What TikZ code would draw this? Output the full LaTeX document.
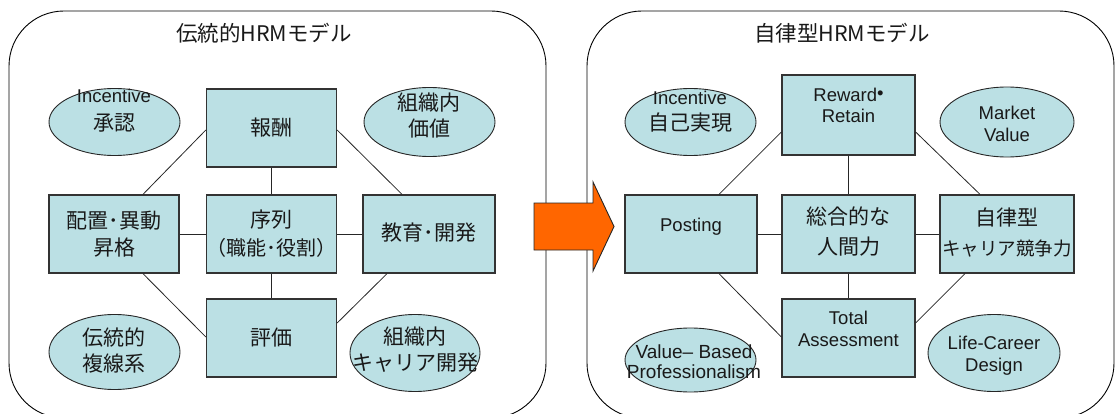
\documentclass[tikz,border=0pt]{standalone}
\usepackage{fontspec}
\setmainfont{Liberation Sans}
\newfontfamily\jp{Noto Sans CJK JP}
\usetikzlibrary{shapes.geometric,calc}
\definecolor{boxfill}{RGB}{187,224,228}
\definecolor{arroworange}{RGB}{255,102,0}
\begin{document}
\begin{tikzpicture}[x=1pt,y=-1pt,
  container/.style={draw=black, line width=0.9pt, rounded corners=55pt},
  box/.style={draw=black!80, line width=1.3pt, fill=boxfill, rectangle, inner sep=0pt},
  oval/.style={draw=black!85, line width=0.9pt, fill=boxfill, ellipse, inner sep=0pt},
  conn/.style={draw=black!85, line width=0.8pt},
  txt/.style={align=center, inner sep=0pt, text=black!90},
  jpt/.style={font=\jp\fontsize{21}{#1}\selectfont}, jpt/.default=27,
  lat/.style={font=\fontsize{18.5}{#1}\selectfont}, lat/.default=21,
  arrowshape/.style={draw=black!85, line width=0.9pt, fill=arroworange}]
\useasboundingbox (0,0) rectangle (1118,414);
% containers
\draw[container] (9,11) rectangle (546,418);
\draw[container] (587,11) rectangle (1114,418);
% titles
\node[txt, font=\jp\fontsize{21.5}{26}\selectfont] (title1) at (264,33) {伝統的HRMモデル};
\node[txt, font=\jp\fontsize{21.5}{26}\selectfont] (title2) at (842,33) {自律型HRMモデル};
% ---------- left model ----------
\node[oval, minimum width=131, minimum height=67] (inc1) at (114.5,122) {};
\node[oval, minimum width=131, minimum height=69] (val1) at (429.5,122) {};
\node[oval, minimum width=131, minimum height=75] (dento) at (114.5,352) {};
\node[oval, minimum width=130, minimum height=77] (car1) at (415,353) {};
\node[box, minimum width=130, minimum height=78] (hou) at (271.5,128) {};
\node[box, minimum width=130, minimum height=78] (haichi) at (114,234) {};
\node[box, minimum width=130, minimum height=78] (joretsu) at (271.5,234) {};
\node[box, minimum width=132, minimum height=78] (kyoiku) at (429,234) {};
\node[box, minimum width=130, minimum height=78] (hyoka) at (271.5,338) {};
\draw[conn] (hou.south) -- (joretsu.north);
\draw[conn] (joretsu.south) -- (hyoka.north);
\draw[conn] (haichi.east) -- (joretsu.west);
\draw[conn] (joretsu.east) -- (kyoiku.west);
\draw[conn] ($(hou.west)+(0,2)$) -- ($(haichi.north)+(29,0)$);
\draw[conn] ($(hou.east)+(0,2)$) -- ($(kyoiku.north)+(-27,0)$);
\draw[conn] ($(haichi.south)+(29,0)$) -- ($(hyoka.west)+(0,-1)$);
\draw[conn] ($(kyoiku.south)+(-42,0)$) -- ($(hyoka.east)+(0,-15)$);
\node[txt, lat=28] (inc1t) at (114,111) {Incentive\\{\jp\fontsize{21}{28}\selectfont 承認}};
\node[txt, jpt=26] (val1t) at (429,115) {組織内\\価値};
\node[txt, jpt=26] (dentot) at (114,350) {伝統的\\複線系};
\node[txt, jpt=26] (car1t) at (415,350) {組織内\\キャリア開発};
\node[txt, jpt] (hout) at (271.5,128) {報酬};
\node[txt, jpt] (haichit) at (114,234) {配置･異動\\昇格};
\node[txt, jpt=28] (joretsut) at (271.5,234) {序列\\{\fontsize{20}{28}\selectfont （職能･役割）}};
\node[txt, jpt] (kyoikut) at (429,233) {教育･開発};
\node[txt, jpt] (hyokat) at (271.5,338) {評価};
% ---------- arrow ----------
\draw[arrowshape] (534,203) -- (593,203) -- (593,182) -- (614,226.5) -- (593,271) -- (593,250) -- (534,250) -- cycle;
% ---------- right model ----------
\node[oval, minimum width=131, minimum height=67] (inc2) at (690.5,122) {};
\node[oval, minimum width=134, minimum height=70] (market) at (1007,122) {};
\node[oval, minimum width=131, minimum height=64] (value) at (690.5,360) {};
\node[oval, minimum width=132, minimum height=77] (life) at (994,353) {};
\node[box, minimum width=133, minimum height=80] (reward) at (848.5,115) {};
\node[box, minimum width=132, minimum height=78] (posting) at (691,234) {};
\node[box, minimum width=133, minimum height=78] (sogo) at (848.5,234) {};
\node[box, minimum width=134, minimum height=78] (jiritsu) at (1007,234) {};
\node[box, minimum width=133, minimum height=78] (total) at (848.5,338) {};
\draw[conn] (reward.south) -- (sogo.north);
\draw[conn] (sogo.south) -- (total.north);
\draw[conn] (posting.east) -- (sogo.west);
\draw[conn] (sogo.east) -- (jiritsu.west);
\draw[conn] ($(reward.west)+(0,17)$) -- ($(posting.north)+(28,0)$);
\draw[conn] ($(reward.east)+(0,17)$) -- ($(jiritsu.north)+(-27,0)$);
\draw[conn] ($(posting.south)+(28,0)$) -- ($(total.west)+(0,-1)$);
\draw[conn] ($(jiritsu.south)+(-42,0)$) -- ($(total.east)+(0,-15)$);
\node[txt, lat=26] (inc2t) at (690,112) {Incentive\\{\jp\fontsize{21}{26}\selectfont 自己実現}};
\node[txt, lat] (rewardt) at (848.5,105) {Reward\raisebox{1.5pt}{•}\\Retain};
\node[txt, lat=22] (markett) at (1007,124) {Market\\Value};
\node[txt, lat] (postingt) at (691,227) {Posting};
\node[txt, jpt=30] (sogot) at (848.5,232) {総合的な\\人間力};
\node[txt, jpt=30] (jiritsut) at (1007,232) {自律型\\{\fontsize{18.5}{30}\selectfont キャリア競争力}};
\node[txt, lat=22] (totalt) at (848.5,329) {Total\\Assessment};
\node[txt, font=\fontsize{19}{20}\selectfont] (valuet) at (694,362) {Value– Based\\Professionalism};
\node[txt, lat=22] (lifet) at (994,356) {Life-Career\\Design};
\end{tikzpicture}
\end{document}
